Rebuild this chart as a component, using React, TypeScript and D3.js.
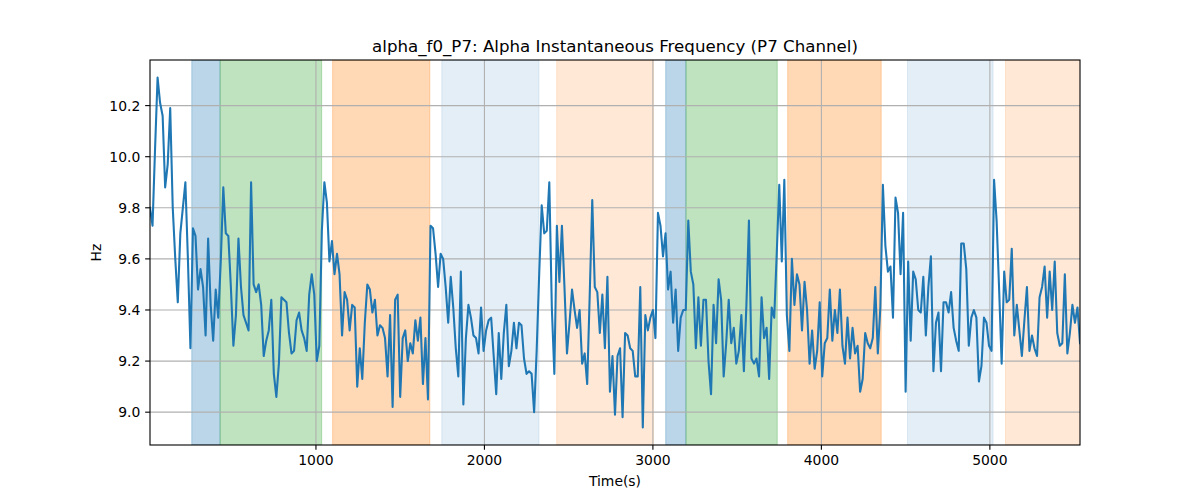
import React from "react";
import * as d3 from "d3";

// Sampling of the time axis (seconds)
const TIME_START = 15;
const TIME_STEP = 15;

// Alpha instantaneous frequency (Hz), in time order
const alphaF0: number[] = [
  9.80, 9.73, 10.03, 10.31, 10.21, 10.16, 9.88, 9.97, 10.19, 9.80, 9.60, 9.43, 9.70, 9.80, 9.90,
  9.60, 9.25, 9.72, 9.69, 9.48, 9.56, 9.49, 9.30, 9.68, 9.42, 9.28, 9.48, 9.37, 9.59, 9.88,
  9.70, 9.69, 9.49, 9.26, 9.38, 9.68, 9.49, 9.38, 9.35, 9.32, 9.90, 9.50, 9.47, 9.50, 9.42, 9.22,
  9.28, 9.32, 9.44, 9.15, 9.06, 9.19, 9.45, 9.44, 9.43, 9.31, 9.23, 9.24, 9.36, 9.39, 9.32, 9.29,
  9.24, 9.46, 9.54, 9.46, 9.20, 9.26, 9.71, 9.90, 9.82, 9.59, 9.67, 9.54, 9.62, 9.54,
  // segment 2
  9.30, 9.47, 9.44, 9.32, 9.42, 9.41, 9.10, 9.25, 9.13, 9.35, 9.50, 9.48, 9.39, 9.44, 9.30, 9.34,
  9.33, 9.29, 9.14, 9.38, 9.02, 9.44, 9.46, 9.06, 9.29, 9.32, 9.20, 9.27, 9.23, 9.36, 9.28, 9.37,
  9.11, 9.29, 9.05, 9.73, 9.72, 9.62, 9.49, 9.62, 9.60, 9.49, 9.35, 9.53, 9.41, 9.25, 9.14, 9.55,
  9.03, 9.29, 9.42, 9.37, 9.30, 9.29, 9.23, 9.41, 9.24, 9.32, 9.36, 9.37, 9.22, 9.07, 9.31, 9.13,
  9.31, 9.42, 9.18, 9.24, 9.35, 9.25, 9.35, 9.34, 9.21, 9.15, 9.16,
  // segment 3
  9.15, 9.00, 9.24, 9.54, 9.81, 9.70, 9.71, 9.90, 9.41, 9.15, 9.73, 9.51, 9.73, 9.49, 9.23, 9.35,
  9.48, 9.40, 9.33, 9.40, 9.19, 9.23, 9.11, 9.46, 9.83, 9.49, 9.47, 9.31, 9.46, 9.25, 9.53, 9.08,
  9.22, 8.99, 9.22, 9.25, 8.98, 9.31, 9.30, 9.25, 9.24, 9.14, 9.14, 9.49, 8.94, 9.38, 9.32, 9.37,
  9.40, 9.29, 9.78, 9.73, 9.61, 9.70, 9.48, 9.55, 9.35, 9.48, 9.24, 9.37, 9.40, 9.40, 9.75, 9.55,
  9.50, 9.25, 9.45, 9.26, 9.44, 9.44, 9.20, 9.07, 9.42, 9.27, 9.52,
  // segment 4
  9.44, 9.14, 9.27, 9.44, 9.27, 9.33, 9.19, 9.24, 9.38, 9.16, 9.42, 9.75, 9.21, 9.19, 9.21, 9.14,
  9.45, 9.29, 9.33, 9.13, 9.41, 9.37, 9.62, 9.89, 9.59, 9.91, 9.38, 9.24, 9.60, 9.42, 9.54, 9.50,
  9.32, 9.51, 9.40, 9.19, 9.32, 9.17, 9.24, 9.43, 9.14, 9.27, 9.29, 9.48, 9.28, 9.40, 9.31, 9.48,
  9.26, 9.19, 9.37, 9.21, 9.33, 9.23, 9.26, 9.08, 9.13, 9.31, 9.27, 9.25, 9.29, 9.49, 9.23, 9.41,
  9.89, 9.65, 9.55, 9.57, 9.37, 9.84, 9.78, 9.54, 9.78, 9.08, 9.59,
  // segment 5
  9.28, 9.55, 9.52, 9.40, 9.39, 9.53, 9.30, 9.49, 9.61, 9.16, 9.35, 9.39, 9.16, 9.43, 9.43, 9.39,
  9.47, 9.33, 9.28, 9.24, 9.66, 9.66, 9.56, 9.26, 9.37, 9.40, 9.37, 9.12, 9.18, 9.37, 9.35, 9.26,
  9.24, 9.91, 9.75, 9.48, 9.19, 9.55, 9.43, 9.44, 9.64, 9.30, 9.42, 9.32, 9.22, 9.36, 9.49, 9.24,
  9.30, 9.25, 9.22, 9.45, 9.49, 9.57, 9.37, 9.55, 9.40, 9.59, 9.31, 9.26, 9.27, 9.54, 9.23, 9.31,
  9.42, 9.35, 9.41, 9.27,
];

// Shaded phases
const spanStarts = [263, 431, 1099, 1747, 2429, 3076, 3196, 3800, 4511, 5093];
const spanEnds = [431, 1034, 1676, 2324, 3003, 3196, 3738, 4355, 5019, 5700];
const spanColors = ["#1f77b4", "#2ca02c", "#ff7f0e", "#1f77b4", "#ff7f0e", "#1f77b4", "#2ca02c", "#ff7f0e", "#1f77b4", "#ff7f0e"];
const spanAlphas = [0.3, 0.3, 0.3, 0.12, 0.17, 0.3, 0.3, 0.3, 0.12, 0.17];

const xTicks = [1000, 2000, 3000, 4000, 5000];
const yTicks = [9.0, 9.2, 9.4, 9.6, 9.8, 10.0, 10.2];

const TITLE = "alpha_f0_P7: Alpha Instantaneous Frequency (P7 Channel)";
const X_LABEL = "Time(s)";
const Y_LABEL = "Hz";

export default function App() {
  const W = 1200;
  const H = 500;
  const left = 150;
  const right = 1080;
  const top = 60;
  const bottom = 445;
  const font = "DejaVu Sans, sans-serif";

  const points = alphaF0.map((v, i) => ({ t: TIME_START + i * TIME_STEP, v }));
  const tMin = points[0].t;
  const tMax = points[points.length - 1].t;
  const [vMin, vMax] = d3.extent(alphaF0) as [number, number];
  const pad = (vMax - vMin) * 0.05;

  const x = d3.scaleLinear().domain([tMin, tMax]).range([left, right]);
  const y = d3.scaleLinear().domain([vMin - pad, vMax + pad]).range([bottom, top]);

  const line = d3
    .line<{ t: number; v: number }>()
    .x((d) => x(d.t))
    .y((d) => y(d.v));

  const tickLen = 4.86;
  const tickPad = 4.86;

  return (
    <div style={{ position: "fixed", left: 0, top: 0 }}>
      <svg width={W} height={H} style={{ display: "block", background: "#fff" }}>
        <defs>
          <clipPath id="plot-clip">
            <rect x={left} y={top} width={right - left} height={bottom - top} />
          </clipPath>
        </defs>
        <g clipPath="url(#plot-clip)">
          {spanStarts.map((s, i) => (
            <rect
              key={"span" + i}
              x={x(s)}
              y={top}
              width={x(spanEnds[i]) - x(s)}
              height={bottom - top}
              fill={spanColors[i]}
              fillOpacity={spanAlphas[i]}
              stroke={spanColors[i]}
              strokeOpacity={spanAlphas[i]}
              strokeWidth={1}
            />
          ))}
          {xTicks.map((t) => (
            <line key={"gx" + t} x1={x(t)} x2={x(t)} y1={top} y2={bottom} stroke="#b0b0b0" strokeWidth={1.1} />
          ))}
          {yTicks.map((t) => (
            <line key={"gy" + t} x1={left} x2={right} y1={y(t)} y2={y(t)} stroke="#b0b0b0" strokeWidth={1.1} />
          ))}
          <path d={line(points) || ""} fill="none" stroke="#1f77b4" strokeWidth={2.08} strokeLinejoin="round" strokeLinecap="square" />
        </g>
        <rect x={left} y={top} width={right - left} height={bottom - top} fill="none" stroke="#000" strokeWidth={1.1} />
        {xTicks.map((t) => (
          <g key={"tx" + t}>
            <line x1={x(t)} x2={x(t)} y1={bottom} y2={bottom + tickLen} stroke="#000" strokeWidth={1.1} />
            <text x={x(t)} y={bottom + tickLen + tickPad} textAnchor="middle" dominantBaseline="hanging" fontFamily={font} fontSize={13.9} fill="#000">
              {String(t)}
            </text>
          </g>
        ))}
        {yTicks.map((t) => (
          <g key={"ty" + t}>
            <line x1={left - tickLen} x2={left} y1={y(t)} y2={y(t)} stroke="#000" strokeWidth={1.1} />
            <text x={left - tickLen - tickPad} y={y(t)} textAnchor="end" dominantBaseline="central" fontFamily={font} fontSize={13.9} fill="#000">
              {t.toFixed(1)}
            </text>
          </g>
        ))}
        <text x={(left + right) / 2} y={486} textAnchor="middle" fontFamily={font} fontSize={13.9} fill="#000">
          {X_LABEL}
        </text>
        <text transform={`translate(101, ${(top + bottom) / 2}) rotate(-90)`} textAnchor="middle" fontFamily={font} fontSize={13.9} fill="#000">
          {Y_LABEL}
        </text>
        <text x={(left + right) / 2} y={52} textAnchor="middle" fontFamily={font} fontSize={16.67} fill="#000">
          {TITLE}
        </text>
      </svg>
    </div>
  );
}
